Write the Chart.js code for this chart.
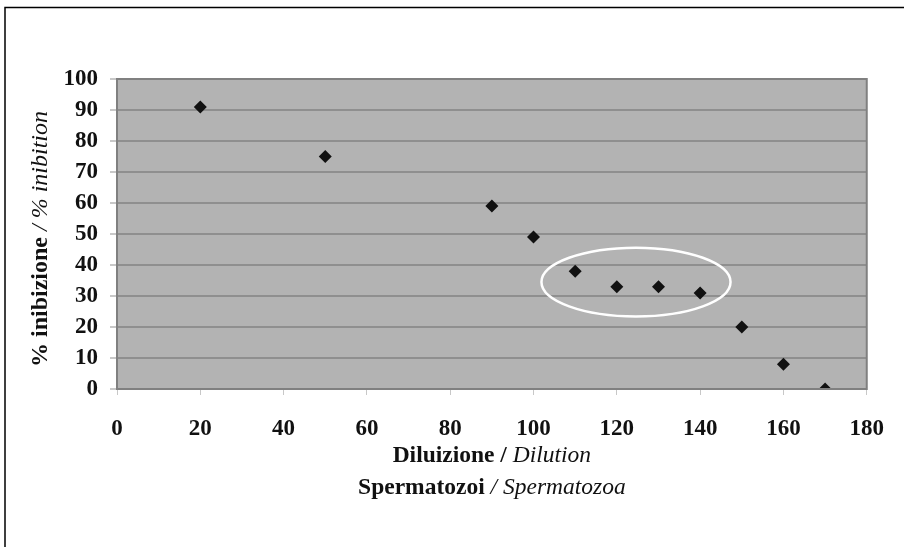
<!DOCTYPE html>
<html>
<head>
<meta charset="utf-8">
<script src="https://cdn.jsdelivr.net/npm/chart.js@4/dist/chart.umd.min.js"></script>
<style>
  html, body { margin: 0; padding: 0; background: #fff; }
  canvas { display: block; }
</style>
</head>
<body>
<canvas id="dilution-chart" width="904" height="547"></canvas>
<script>
// values
const dilution = [20, 50, 90, 100, 110, 120, 130, 140, 150, 160, 170];
const inhibition = [91, 75, 59, 49, 38, 33, 33, 31, 20, 8, 0];
const xTicks = [0, 20, 40, 60, 80, 100, 120, 140, 160, 180];
const yTicks = [0, 10, 20, 30, 40, 50, 60, 70, 80, 90, 100];
// highlighted group (data units): centre x, centre y, half width, half height
const ringCentre = [124.6, 34.5];
const ringRadius = [22.7, 11.1];

const serif = "'Liberation Serif', 'Times New Roman', serif";

const points = dilution.map((d, i) => ({ x: d, y: inhibition[i] }));

// draws a run of text pieces with their own font, returns the total width
function drawRuns(ctx, runs, x, y, measureOnly) {
  let w = 0;
  runs.forEach((r) => {
    ctx.font = r.font;
    if (!measureOnly) ctx.fillText(r.text, x + w, y);
    w += ctx.measureText(r.text).width;
  });
  return w;
}

const decorations = {
  id: "decorations",
  beforeDraw(chart) {
    const { ctx, chartArea: a } = chart;
    ctx.save();
    ctx.fillStyle = "#b3b3b3";
    ctx.fillRect(a.left, a.top, a.right - a.left, a.bottom - a.top);
    ctx.restore();
  },
  afterDatasetsDraw(chart) {
    const { ctx, chartArea: a, scales } = chart;
    const x = scales.x, y = scales.y;
    ctx.save();
    // plot frame
    ctx.strokeStyle = "#808080";
    ctx.lineWidth = 2;
    ctx.strokeRect(a.left, a.top, a.right - a.left, a.bottom - a.top);

    // white ring round the plateau
    const cx = x.getPixelForValue(ringCentre[0]);
    const cy = y.getPixelForValue(ringCentre[1]);
    const rx = x.getPixelForValue(ringCentre[0] + ringRadius[0]) - cx;
    const ry = cy - y.getPixelForValue(ringCentre[1] + ringRadius[1]);
    ctx.beginPath();
    ctx.ellipse(cx, cy, rx, ry, 0, 0, Math.PI * 2);
    ctx.strokeStyle = "#ffffff";
    ctx.lineWidth = 2.5;
    ctx.stroke();

    // axis titles (mixed bold / italic)
    ctx.fillStyle = "#111";
    ctx.textBaseline = "alphabetic";
    const bold = "bold 23.5px " + serif;
    const ital = "italic 23.5px " + serif;
    const mid = (a.left + a.right) / 2;

    const line1 = [
      { text: "Diluizione /", font: bold },
      { text: " Dilution", font: ital },
    ];
    const line2 = [
      { text: "Spermatozoi", font: bold },
      { text: " / Spermatozoa", font: ital },
    ];
    let w = drawRuns(ctx, line1, 0, 0, true);
    drawRuns(ctx, line1, mid - w / 2, 462);
    w = drawRuns(ctx, line2, 0, 0, true);
    drawRuns(ctx, line2, mid - w / 2, 494);

    const yBold = "bold 24px " + serif;
    const yItal = "italic 24px " + serif;
    const yTitle = [
      { text: "% inibizione", font: yBold },
      { text: " / % inibition", font: yItal },
    ];
    w = drawRuns(ctx, yTitle, 0, 0, true);
    ctx.translate(47, (a.top + a.bottom) / 2 + 5);
    ctx.rotate(-Math.PI / 2);
    drawRuns(ctx, yTitle, -w / 2, 0);
    ctx.restore();

    // picture border (top and left edges)
    ctx.save();
    ctx.strokeStyle = "#000";
    ctx.lineWidth = 1.5;
    ctx.beginPath();
    ctx.moveTo(904, 7.5);
    ctx.lineTo(5, 7.5);
    ctx.lineTo(5, 547);
    ctx.stroke();
    ctx.restore();
  },
};

const canvas = document.getElementById("dilution-chart");
let dilutionChart = new Chart(canvas, {
  type: "scatter",
  data: {
    datasets: [
      {
        label: "% inibizione",
        data: points,
        pointStyle: "rectRot",
        pointRadius: 6.5,
        pointHoverRadius: 6.5,
        backgroundColor: "#111111",
        borderColor: "#111111",
        borderWidth: 0,
      },
    ],
  },
  options: {
    responsive: false,
    animation: false,
    layout: {
      padding: { left: 0, top: 79, right: 36, bottom: 0 },
    },
    plugins: {
      legend: { display: false },
      tooltip: { enabled: false },
    },
    scales: {
      x: {
        type: "linear",
        min: 0,
        max: 180,
        afterFit(scale) {
          scale.height = 158;
        },
        afterBuildTicks(scale) {
          scale.ticks = xTicks.map((v) => ({ value: v }));
        },
        border: { display: false },
        grid: {
          drawOnChartArea: false,
          drawTicks: true,
          tickLength: 6,
          tickColor: "#c8c8c8",
        },
        ticks: {
          padding: 20,
          color: "#111",
          font: { family: serif, size: 23, weight: "bold" },
        },
      },
      y: {
        min: 0,
        max: 100,
        afterFit(scale) {
          scale.width = 117;
        },
        afterBuildTicks(scale) {
          scale.ticks = yTicks.map((v) => ({ value: v }));
        },
        border: { display: false },
        grid: {
          color: "#8f8f8f",
          lineWidth: 2,
          drawTicks: true,
          tickLength: 7,
          tickColor: "#c8c8c8",
        },
        ticks: {
          padding: 12,
          color: "#111",
          font: { family: serif, size: 23, weight: "bold" },
        },
      },
    },
  },
  plugins: [decorations],
});
</script>
</body>
</html>
